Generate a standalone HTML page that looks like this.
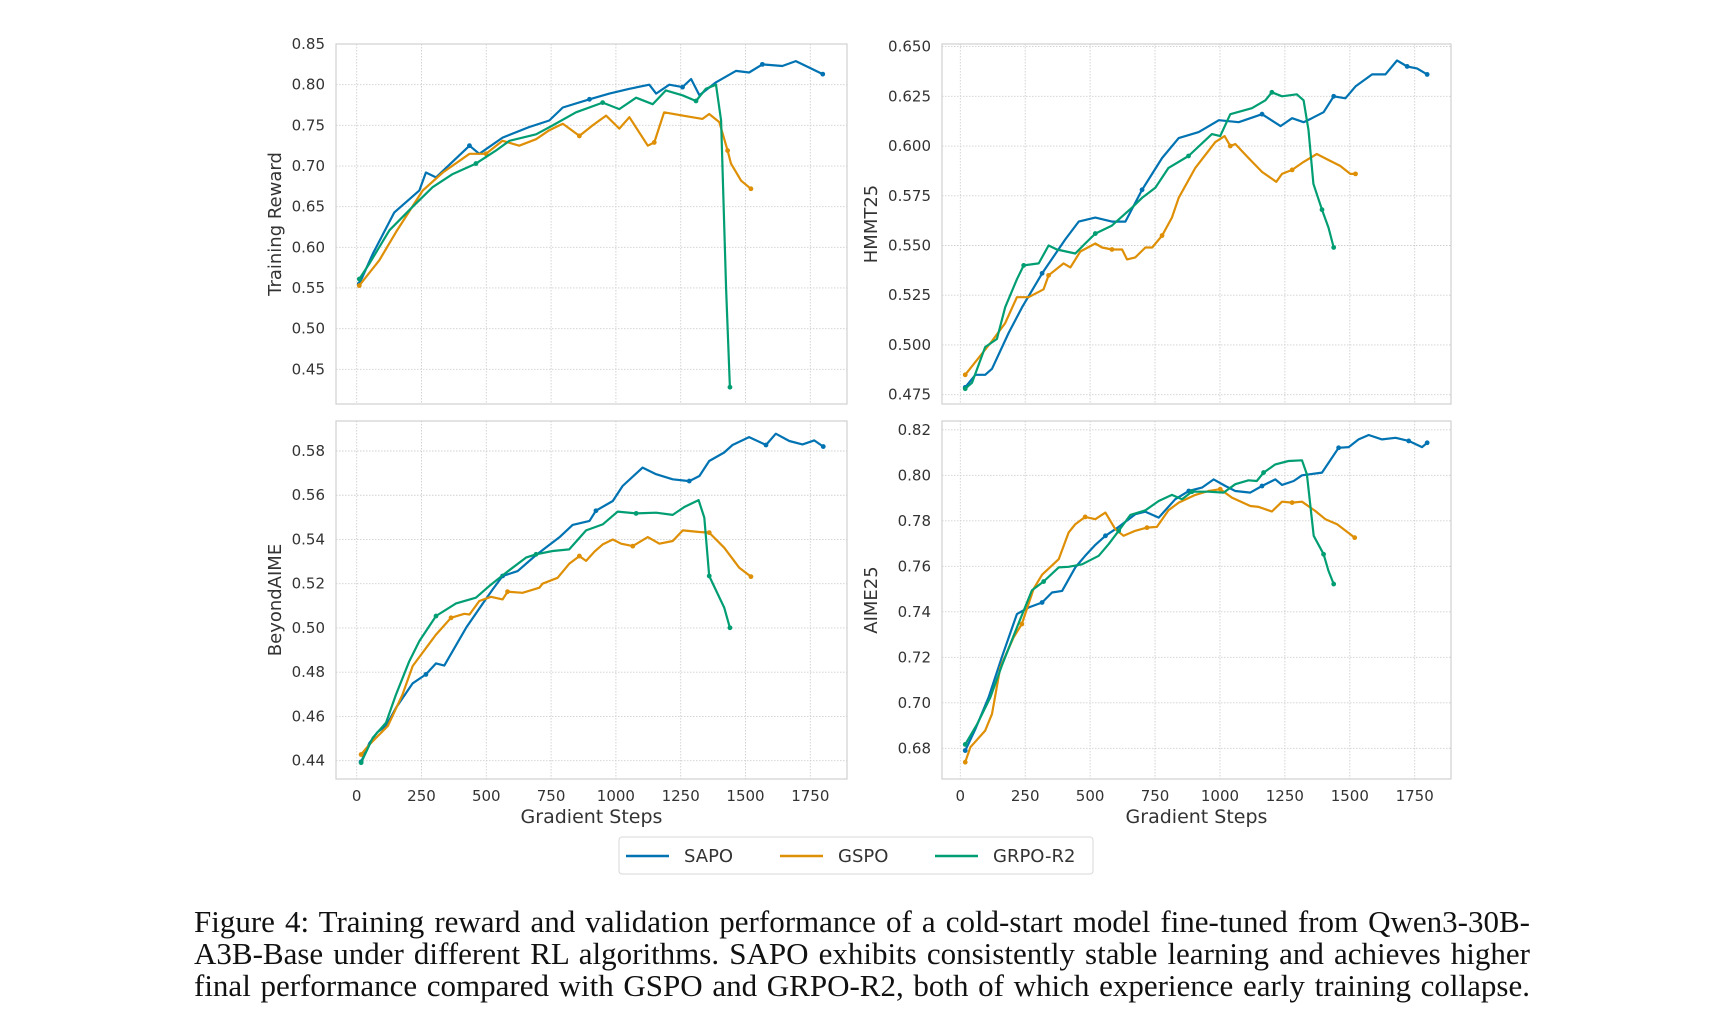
<!DOCTYPE html>
<html><head><meta charset="utf-8">
<style>
html,body{margin:0;padding:0;background:#fff;width:1718px;height:1032px;overflow:hidden}
#fig{position:absolute;left:0;top:0}
#caption{position:absolute;left:194px;top:906px;width:1336px;font-family:"Liberation Serif",serif;font-size:31px;line-height:32px;color:#111}
#caption div{text-align:justify;text-align-last:justify;white-space:nowrap;height:32px}
</style></head>
<body>
<svg id="fig" width="1718" height="900" xmlns="http://www.w3.org/2000/svg" font-family="DejaVu Sans, Liberation Sans, sans-serif"></svg>
<div id="caption"><div>Figure 4: Training reward and validation performance of a cold-start model fine-tuned from Qwen3-30B-</div><div>A3B-Base under different RL algorithms. SAPO exhibits consistently stable learning and achieves higher</div><div>final performance compared with GSPO and GRPO-R2, both of which experience early training collapse.</div></div>
<script>
const xTicks=[0,250,500,750,1000,1250,1500,1750];
const seriesNames=["SAPO","GSPO","GRPO-R2"];
const rewardTicks=[0.45,0.50,0.55,0.60,0.65,0.70,0.75,0.80,0.85];
const hmmtTicks=[0.475,0.500,0.525,0.550,0.575,0.600,0.625,0.650];
const beyondTicks=[0.44,0.46,0.48,0.50,0.52,0.54,0.56,0.58];
const aimeTicks=[0.68,0.70,0.72,0.74,0.76,0.78,0.80,0.82];

const rewardSAPO=[[10,.555],[62,.592],[145,.643],[242,.67],[267,.692],[306,.686],[435,.725],[473,.715],[563,.735],[666,.748],[743,.756],[795,.772],[898,.782],[975,.789],[1052,.795],[1129,.80],[1155,.789],[1206,.80],[1257,.797],[1290,.807],[1322,.787],[1386,.803],[1463,.817],[1514,.815],[1565,.825],[1642,.823],[1694,.829],[1746,.821],[1798,.813]];
const rewardGSPO=[[10,.553],[87,.584],[152,.619],[255,.67],[332,.692],[435,.715],[499,.715],[563,.731],[627,.725],[692,.733],[743,.744],[795,.752],[859,.737],[910,.75],[962,.762],[1013,.746],[1052,.76],[1123,.725],[1148,.729],[1186,.766],[1257,.762],[1334,.758],[1360,.764],[1399,.754],[1431,.719],[1444,.703],[1483,.682],[1521,.672]];
const rewardGRPO=[[10,.561],[49,.58],[126,.621],[216,.65],[293,.674],[370,.69],[460,.703],[537,.719],[589,.731],[692,.739],[756,.75],[846,.766],[949,.778],[1013,.77],[1078,.784],[1142,.776],[1193,.793],[1257,.787],[1309,.78],[1347,.795],[1386,.80],[1406,.756],[1425,.549],[1440,.428]];

const hmmtSAPO=[[19,.4787],[58,.485],[96,.485],[122,.488],[186,.506],[238,.519],[315,.536],[404,.553],[456,.562],[520,.564],[584,.562],[636,.562],[700,.578],[777,.594],[841,.604],[918,.607],[996,.613],[1072,.612],[1162,.616],[1233,.610],[1278,.614],[1322,.612],[1354,.614],[1399,.617],[1438,.625],[1483,.624],[1522,.630],[1586,.636],[1637,.636],[1682,.643],[1721,.640],[1759,.639],[1798,.636]];
const hmmtGSPO=[[19,.485],[122,.502],[173,.511],[218,.524],[263,.524],[321,.528],[340,.535],[398,.541],[424,.539],[462,.547],[520,.551],[546,.549],[584,.548],[623,.548],[642,.543],[674,.544],[713,.549],[739,.549],[777,.555],[815,.564],[841,.574],[905,.589],[982,.602],[1018,.605],[1040,.600],[1059,.601],[1110,.594],[1162,.587],[1217,.582],[1239,.586],[1278,.588],[1322,.592],[1373,.596],[1418,.593],[1463,.590],[1502,.586],[1522,.586]];
const hmmtGRPO=[[19,.478],[45,.481],[96,.499],[141,.503],[173,.519],[218,.533],[244,.540],[302,.541],[340,.550],[372,.548],[443,.546],[481,.551],[520,.556],[584,.560],[661,.569],[700,.574],[751,.579],[802,.589],[879,.595],[969,.606],[1001,.605],[1040,.616],[1123,.619],[1175,.623],[1200,.627],[1239,.625],[1296,.626],[1322,.623],[1341,.608],[1360,.581],[1393,.568],[1418,.559],[1438,.549]];

const beyondSAPO=[[17,.4395],[49,.448],[81,.453],[113,.4557],[152,.464],[216,.475],[267,.479],[306,.484],[338,.483],[422,.5001],[486,.511],[525,.5175],[563,.5235],[621,.5257],[692,.533],[782,.541],[833,.5466],[898,.5484],[923,.553],[988,.5574],[1026,.5642],[1103,.5725],[1155,.5695],[1219,.5672],[1283,.5664],[1322,.5687],[1360,.5755],[1418,.5793],[1450,.5827],[1514,.5863],[1579,.5827],[1617,.5878],[1669,.5845],[1720,.583],[1765,.5848],[1800,.582]];
const beyondGSPO=[[17,.4428],[49,.4473],[120,.4557],[177,.470],[216,.4828],[306,.497],[364,.5046],[415,.5064],[435,.5061],[473,.5122],[518,.5141],[563,.5129],[582,.5164],[640,.5159],[705,.5182],[717,.52],[775,.5227],[820,.529],[859,.5325],[885,.5303],[917,.5345],[949,.5378],[988,.540],[1020,.5381],[1065,.537],[1123,.5411],[1168,.5381],[1219,.5393],[1258,.5441],[1322,.5434],[1360,.5431],[1418,.5363],[1476,.5272],[1521,.5232]];
const beyondGRPO=[[17,.4391],[62,.4504],[113,.4572],[152,.470],[203,.485],[242,.4941],[306,.5054],[383,.5111],[460,.5137],[512,.519],[576,.525],[653,.5318],[692,.5333],[756,.5348],[820,.5355],[885,.5441],[949,.5468],[1007,.5526],[1078,.5518],[1155,.5521],[1219,.5511],[1264,.5547],[1319,.5578],[1341,.5499],[1360,.5235],[1418,.5092],[1440,.5001]];

const aimeSAPO=[[19,.679],[58,.6885],[109,.7024],[160,.72],[218,.739],[263,.7419],[315,.7441],[353,.7485],[392,.7492],[443,.7595],[481,.7646],[520,.7694],[559,.7734],[610,.7773],[674,.7829],[713,.784],[764,.7814],[828,.7895],[880,.7931],[931,.7946],[976,.7982],[1021,.7953],[1059,.7931],[1117,.7924],[1162,.7953],[1213,.7982],[1239,.7958],[1284,.7975],[1316,.80],[1393,.8012],[1457,.8121],[1496,.8124],[1534,.8158],[1573,.8177],[1624,.8158],[1676,.8165],[1727,.8151],[1778,.8124],[1798,.8143]];
const aimeGSPO=[[19,.6739],[39,.6805],[96,.6878],[122,.6951],[154,.7156],[205,.7287],[237,.7346],[282,.75],[315,.7563],[379,.7631],[417,.7748],[443,.7785],[481,.7817],[520,.7807],[559,.7836],[597,.7763],[629,.7734],[674,.7756],[719,.777],[757,.7773],[802,.7846],[841,.788],[905,.7914],[956,.7931],[1001,.7939],[1046,.7902],[1117,.7865],[1149,.7861],[1200,.7841],[1239,.7884],[1278,.788],[1316,.7884],[1367,.7843],[1406,.7807],[1451,.7785],[1519,.7726]];
const aimeGRPO=[[19,.6817],[64,.6904],[116,.7024],[160,.7163],[218,.7331],[276,.7495],[321,.7533],[379,.7595],[417,.7598],[469,.7609],[533,.7646],[571,.7697],[610,.7756],[655,.7826],[713,.7846],[764,.7887],[815,.7914],[854,.7895],[892,.7928],[956,.7928],[1014,.7924],[1059,.7961],[1110,.7978],[1142,.7975],[1168,.8012],[1213,.8048],[1264,.8063],[1316,.8066],[1335,.8004],[1361,.7734],[1399,.7653],[1418,.758],[1438,.7522]];

const colors=["#0173b2","#de8f05","#029e73"];
const NS="http://www.w3.org/2000/svg";
const svg=document.getElementById('fig');
function mk(tag,attrs,parent){const e=document.createElementNS(NS,tag);for(const k in attrs)e.setAttribute(k,attrs[k]);(parent||svg).appendChild(e);return e;}

const panels=[
 {name:"training-reward",box:[336,44,847,404],x0:356.7,x1750:810.3,yA:[0.80,84.7],yB:[0.45,369.3],ticks:rewardTicks,fmt:2,title:"Training Reward",tx:276,data:[rewardSAPO,rewardGSPO,rewardGRPO],xlab:false},
 {name:"hmmt25",box:[942,44,1451,404],x0:960.3,x1750:1414.7,yA:[0.625,96.3],yB:[0.475,394.7],ticks:hmmtTicks,fmt:3,title:"HMMT25",tx:872,data:[hmmtSAPO,hmmtGSPO,hmmtGRPO],xlab:false},
 {name:"beyond-aime",box:[336,421,847,779],x0:356.7,x1750:810.3,yA:[0.58,451],yB:[0.44,760.7],ticks:beyondTicks,fmt:2,title:"BeyondAIME",tx:276,data:[beyondSAPO,beyondGSPO,beyondGRPO],xlab:true},
 {name:"aime25",box:[942,421,1451,779],x0:960.3,x1750:1414.7,yA:[0.80,475.3],yB:[0.68,748.3],ticks:aimeTicks,fmt:2,title:"AIME25",tx:872,data:[aimeSAPO,aimeGSPO,aimeGRPO],xlab:true}
];

panels.forEach(p=>{
  const [L,T,R,B]=p.box;
  const g=mk('g',{});
  
  
  const xs=s=>p.x0+s*(p.x1750-p.x0)/1750;
  const ys=v=>p.yA[1]+(v-p.yA[0])*(p.yB[1]-p.yA[1])/(p.yB[0]-p.yA[0]);
  xTicks.forEach(t=>{
    const ln=mk('line',{x1:xs(t),x2:xs(t),y1:T,y2:B,stroke:"#cfcfcf","stroke-width":0.9,"stroke-dasharray":"1.5,1.5"},g);
    
    
    if(p.xlab){
      const tx=mk('text',{x:xs(t),y:B+22,"font-size":15,fill:"#333","text-anchor":"middle"},g);
      tx.textContent=t;
      
      
    }
  });
  p.ticks.forEach(t=>{
    const y=ys(t);
    if(y<T-2||y>B+2) return;
    const ln=mk('line',{x1:L,x2:R,y1:y,y2:y,stroke:"#cfcfcf","stroke-width":0.9,"stroke-dasharray":"1.5,1.5"},g);
    
    
    const tx=mk('text',{x:L-11,y:y+5,"font-size":15,fill:"#333","text-anchor":"end"},g);
    tx.textContent=t.toFixed(p.fmt);
    
    
  });
  const fr=mk('rect',{x:L,y:T,width:R-L,height:B-T,fill:"none",stroke:"#d0d0d0","stroke-width":1.2},g);
  
  
  const cy=(T+B)/2;
  const yt=mk('text',{x:p.tx,y:cy,"font-size":18,fill:"#333","text-anchor":"middle",transform:`rotate(-90 ${p.tx} ${cy})`,"dominant-baseline":"middle"},g);
  yt.textContent=p.title;
  
  
  if(p.xlab){
    const xt=mk('text',{x:(L+R)/2,y:B+44,"font-size":19,fill:"#333","text-anchor":"middle"},g);
    xt.textContent="Gradient Steps";
    
    
  }
  p.data.forEach((d,i)=>{
    const pts=d.map(q=>xs(q[0]).toFixed(1)+","+ys(q[1]).toFixed(1)).join(" ");
    const pl=mk('polyline',{points:pts,fill:"none",stroke:colors[i],"stroke-width":2.2,"stroke-linejoin":"round"},g);
    
    
    d.forEach((q,k)=>{
      if(k%6!==0 && k!==d.length-1) return;
      const c=mk('circle',{cx:xs(q[0]),cy:ys(q[1]),r:2.4,fill:colors[i]},g);
      
      
    });
  });
});

const lg=mk('g',{});


const lr=mk('rect',{x:619,y:837,width:474,height:37,rx:3,fill:"#fff",stroke:"#d8d8d8","stroke-width":1},lg);


const lx=[626,780,935];
seriesNames.forEach((n,i)=>{
  const ln=mk('line',{x1:lx[i],x2:lx[i]+43,y1:856,y2:856,stroke:colors[i],"stroke-width":2.4},lg);
  
  
  const t=mk('text',{x:lx[i]+58,y:862,"font-size":18,fill:"#333"},lg);
  t.textContent=n;
  
  
});
</script>
</body></html>
